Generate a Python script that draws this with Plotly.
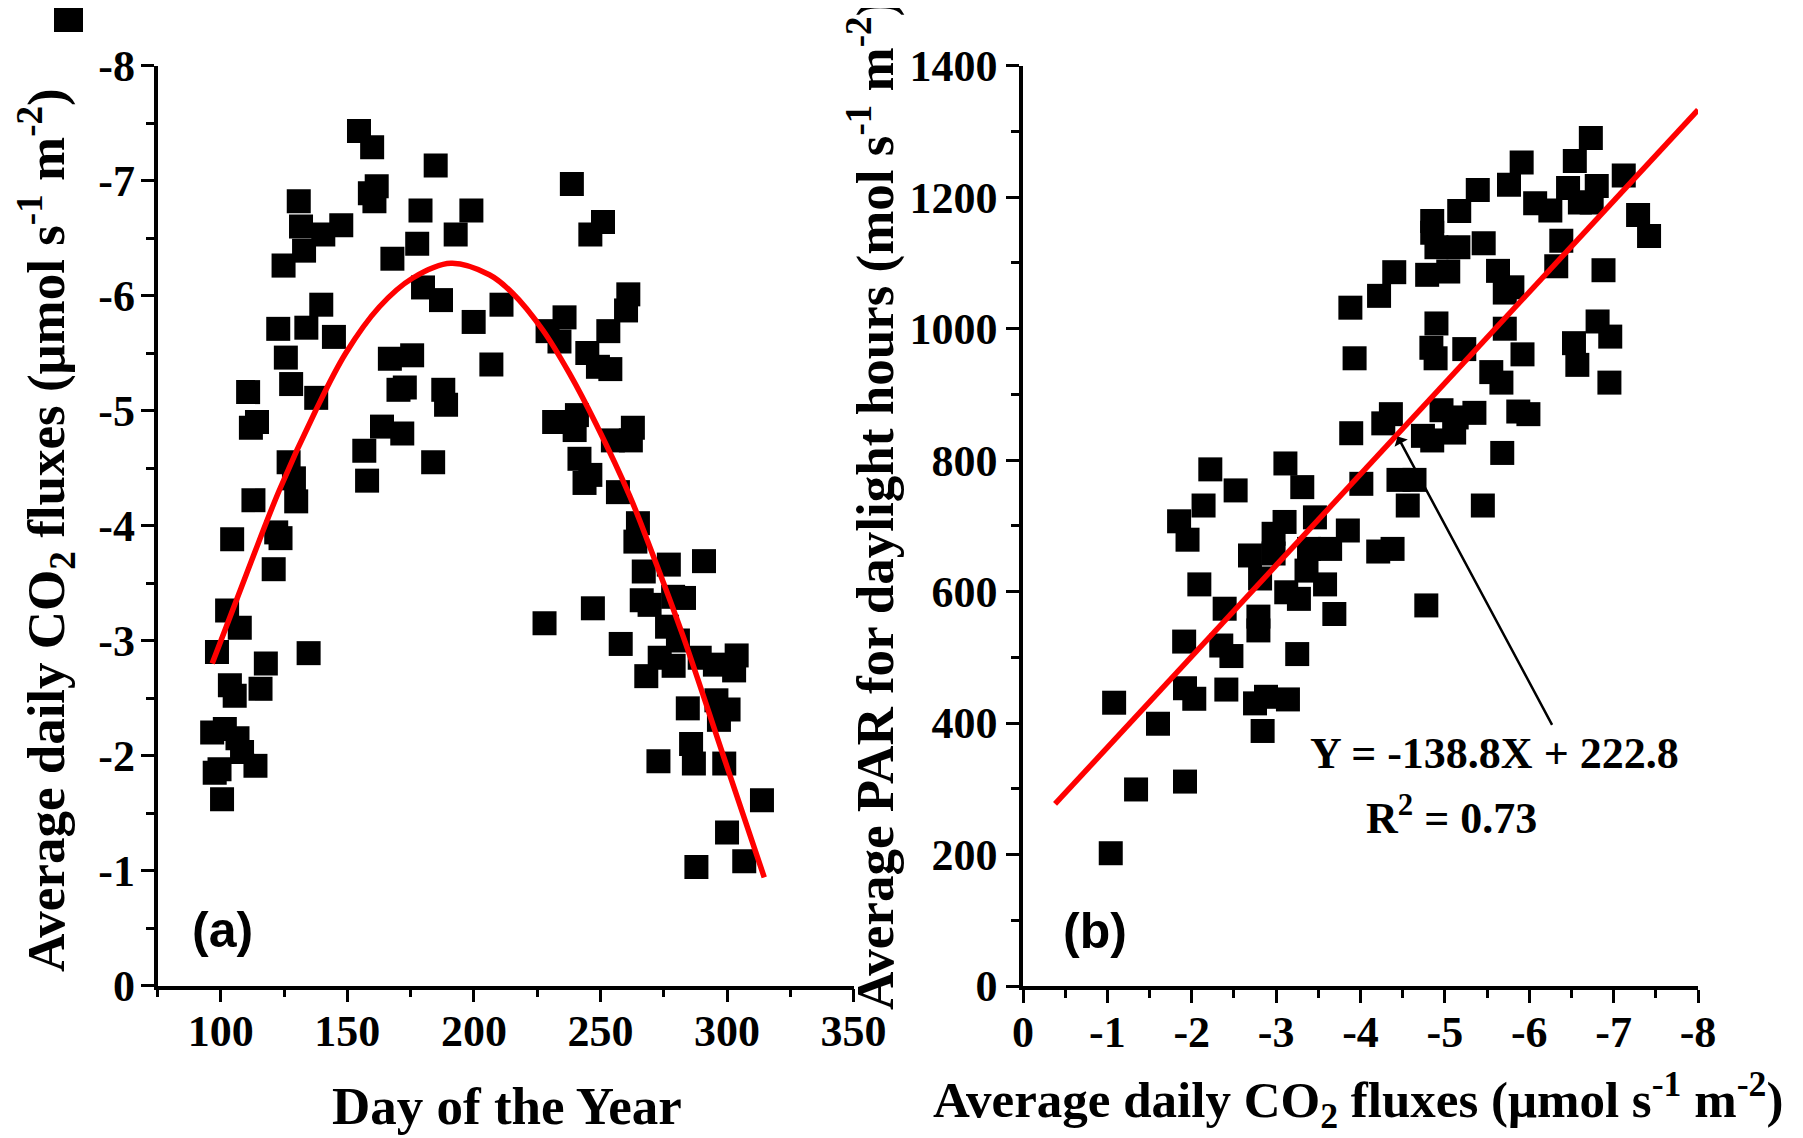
import plotly.graph_objects as go

# Reference screenshot size in px; the page body adds an 8px margin,
# so the figure is drawn 8px smaller and every position is shifted by it.
W, H = 1803, 1138
OFF = 8
FW, FH = W - OFF, H - OFF

# ---- panel (a): day of year vs average daily CO2 flux ----
doy_a = [154.6, 159.8, 184.9, 161.6, 158.9, 160.7, 130.8, 131.7, 140.5, 147.6, 132.9,
         124.8, 178.9, 199.0, 192.8, 177.6, 167.8, 179.9, 187.0, 199.9, 139.7, 122.7,
         133.8, 144.7, 125.7, 166.8, 175.6, 127.8, 137.7, 110.8, 114.3, 111.9, 170.2,
         172.7, 187.9, 189.0, 163.7, 171.7, 156.7, 183.9, 157.8, 126.8, 128.9, 206.9,
         238.7, 251.0, 246.0, 210.9, 261.0, 260.1, 235.8, 229.1, 233.8, 253.1, 244.8,
         249.0, 253.9, 231.7, 240.7, 239.8, 262.8, 254.9, 262.0, 241.7, 246.0, 243.7,
         256.9,
         112.9, 129.8, 104.5, 121.9, 123.6, 120.9, 102.5, 107.5, 98.5, 117.8, 134.7,
         103.6, 105.5, 115.7, 96.6, 101.6, 106.6, 108.4, 113.7, 97.6, 99.5, 100.5,
         264.8, 263.8, 277.0, 290.9, 267.1, 266.3, 269.4, 278.7, 283.0, 247.0, 227.9,
         258.0, 276.3, 280.6, 273.4, 278.9, 268.1, 289.2, 295.2, 303.8, 302.8, 284.5,
         295.8, 300.6, 296.8, 285.8, 286.9, 272.9, 298.9, 313.8, 300.0, 287.9, 306.8]
flux_a = [-7.43, -7.29, -7.13, -6.95, -6.89, -6.82, -6.82, -6.60, -6.53, -6.61, -6.39,
          -6.26, -6.74, -6.74, -6.53, -6.45, -6.32, -6.07, -5.96, -5.77, -5.92, -5.71,
          -5.72, -5.64, -5.46, -5.45, -5.48, -5.23, -5.11, -5.16, -4.90, -4.85, -5.18,
          -5.20, -5.18, -5.05, -4.86, -4.80, -4.65, -4.55, -4.39, -4.55, -4.41, -5.40,
          -6.97, -6.64, -6.53, -5.92, -6.01, -5.87, -5.81, -5.69, -5.60, -5.69, -5.50,
          -5.38, -5.36, -4.90, -4.96, -4.83, -4.85, -4.74, -4.74, -4.58, -4.44, -4.37,
          -4.29,
          -4.22, -4.21, -3.88, -3.94, -3.89, -3.62, -3.26, -3.11, -2.90, -2.80, -2.89,
          -2.61, -2.52, -2.58, -2.20, -2.23, -2.15, -2.03, -1.91, -1.85, -1.88, -1.62,
          -4.02, -3.86, -3.66, -3.69, -3.60, -3.35, -3.31, -3.38, -3.37, -3.28, -3.15,
          -2.97, -3.12, -3.00, -2.85, -2.78, -2.69, -2.85, -2.79, -2.87, -2.74, -2.41,
          -2.48, -2.40, -2.31, -2.10, -1.93, -1.95, -1.93, -1.61, -1.33, -1.03, -1.08]

# red fitted curve
fit_doy_a = [96.6, 110, 123.0, 137.5, 149.4, 162.6, 175.7, 190.9, 206.1, 215.3,
             227.2, 237.8, 248.3, 261.5, 269.4, 282.6, 298.5, 314.7]
fit_flux_a = [-2.80, -3.57, -4.30, -5.00, -5.50, -5.90, -6.15, -6.28, -6.18, -6.02,
              -5.70, -5.32, -4.88, -4.26, -3.82, -3.04, -2.00, -0.94]

# ---- panel (b): CO2 flux vs average PAR ----
flux_b = [-3.88, -3.93, -3.89, -2.22, -2.52, -3.11, -3.31, -4.01,
          -6.73, -5.91, -6.54, -6.80, -6.46, -6.60, -6.74, -7.12, -5.76, -6.07, -6.25,
          -5.39, -5.17, -4.85, -4.85, -7.29, -7.42, -4.90, -5.16, -5.46, -6.38, -4.40,
          -4.22, -4.79, -5.04, -5.63, -5.80, -5.71, -6.32, -6.88, -4.90, -5.71, -6.81,
          -6.96, -4.84, -4.89, -5.23, -5.92, -6.53, -6.57, -6.95, -5.55, -5.67, -4.36,
          -4.27, -4.96, -5.35, -5.14, -4.74, -4.85, -5.11, -5.87, -5.99, -5.68, -4.45,
          -4.64,
          -4.56, -5.45, -4.21, -4.38, -4.78,
          -2.14, -1.85, -1.95, -3.10, -3.46, -3.85, -2.97, -2.69, -2.97, -2.81, -3.39,
          -3.64, -3.36, -3.58, -3.12, -3.27, -2.09, -2.39, -2.79, -2.79, -3.69, -1.91,
          -2.35, -2.47, -3.25, -1.08, -1.92, -2.03, -2.41, -2.75, -2.88, -3.14, -2.84,
          -1.60, -1.34, -1.92, -1.04]
par_b = [1032, 955, 841, 786, 754, 795, 759, 764,
         1290, 1253, 1255, 1217, 1214, 1192, 1192, 1233, 1219, 1191, 1180,
         1211, 1179, 1164, 1146, 1173, 1141, 1124, 1124, 1130, 1134, 1086,
         1050, 1082, 1087, 1088, 1063, 1055, 1095, 1089, 1008, 1000, 1011,
         988, 971, 955, 969, 961, 978, 945, 918, 934, 918, 870,
         856, 876, 872, 865, 837, 830, 842, 874, 870, 811, 770,
         770,
         731, 731, 661, 665, 579,
         731, 707, 679, 706, 713, 693, 688, 655, 658, 620, 665,
         665, 632, 611, 599, 589, 611, 574, 562, 541, 566, 524,
         518, 502, 505, 431, 453, 437, 451, 430, 440, 436, 388,
         399, 299, 311, 202]

# regression line end points (Y = -138.8X + 222.8)
fit_flux_b = [-0.38, -8.0]
fit_par_b = [277, 1333]

# ticks
xa_major = [100, 150, 200, 250, 300, 350]
xa_minor = [75, 125, 175, 225, 275, 325]
ya_major = [0, -1, -2, -3, -4, -5, -6, -7, -8]
ya_minor = [-0.5, -1.5, -2.5, -3.5, -4.5, -5.5, -6.5, -7.5]
xb_major = [0, -1, -2, -3, -4, -5, -6, -7, -8]
xb_minor = [-0.5, -1.5, -2.5, -3.5, -4.5, -5.5, -6.5, -7.5]
yb_major = [0, 200, 400, 600, 800, 1000, 1200, 1400]
yb_minor = [100, 300, 500, 700, 900, 1100, 1300]

SERIF = 'Liberation Serif, Times New Roman, serif'
SANS = 'Liberation Sans, Arial, sans-serif'


# screen pixel -> paper fraction
def px(x):
    return (x - OFF) / FW


def py(y):
    return 1 - (y - OFF) / FH


fig = go.Figure()

fig.add_trace(go.Scatter(x=doy_a, y=flux_a, mode='markers', xaxis='x', yaxis='y',
                         marker=dict(symbol='square', size=24, color='black', line=dict(width=0))))
fig.add_trace(go.Scatter(x=fit_doy_a, y=fit_flux_a, mode='lines', xaxis='x', yaxis='y',
                         line=dict(color='#ff0000', width=5.5, shape='spline', smoothing=1.0)))
fig.add_trace(go.Scatter(x=flux_b, y=par_b, mode='markers', xaxis='x2', yaxis='y2',
                         marker=dict(symbol='square', size=24, color='black', line=dict(width=0))))
fig.add_trace(go.Scatter(x=fit_flux_b, y=fit_par_b, mode='lines', xaxis='x2', yaxis='y2',
                         line=dict(color='#ff0000', width=5.5)))

tickfont = dict(family=SERIF, size=44, color='black', weight='bold')
axis_common = dict(showline=True, linewidth=3.5, linecolor='black', mirror=False,
                   showgrid=False, zeroline=False, ticks='outside', ticklen=13,
                   tickwidth=3, tickcolor='black', tickfont=tickfont, tickmode='array',
                   automargin=False)
minor_common = dict(ticks='outside', ticklen=8, tickwidth=3, tickcolor='black',
                    showgrid=False, tickmode='array')


def labels(vals):
    return [str(v) for v in vals]


fig.update_layout(
    width=FW, height=FH,
    margin=dict(l=0, r=0, t=0, b=0, autoexpand=False),
    paper_bgcolor='white', plot_bgcolor='white',
    showlegend=False,
    xaxis=dict(domain=[px(157.5), px(853.6)], range=[75, 350], anchor='y',
               tickvals=xa_major, ticktext=labels(xa_major), ticklabelstandoff=-9,
               minor=dict(tickvals=xa_minor, **minor_common), **axis_common),
    yaxis=dict(domain=[py(985.5), py(65.5)], range=[0, -8], anchor='x',
               tickvals=ya_major, ticktext=labels(ya_major), ticklabelstandoff=-3,
               minor=dict(tickvals=ya_minor, **minor_common), **axis_common),
    xaxis2=dict(domain=[px(1023), px(1698)], range=[0, -8], anchor='y2',
                tickvals=xb_major, ticktext=labels(xb_major), ticklabelstandoff=-9,
                minor=dict(tickvals=xb_minor, **minor_common), **axis_common),
    yaxis2=dict(domain=[py(986), py(65.8)], range=[0, 1400], anchor='x2',
                tickvals=yb_major, ticktext=labels(yb_major),
                minor=dict(tickvals=yb_minor, **minor_common), **axis_common),
)

title_font = dict(family=SERIF, size=53, color='black', weight='bold')
xtitle_b_font = dict(family=SERIF, size=51, color='black', weight='bold')
co2_title = 'Average daily CO<sub>2</sub> fluxes (\u03bcmol s<sup>-1</sup> m<sup>-2</sup>)'
label_font = dict(family=SANS, size=50, color='black', weight='bold')
eq_font = dict(family=SERIF, size=44, color='black', weight='bold')

annotations = [
    # axis titles
    dict(text=co2_title, textangle=-90, x=px(46), y=py(530), font=title_font),
    dict(text='Day of the Year', x=px(507), y=py(1106), font=title_font),
    dict(text='Average PAR for daylight hours (mol s<sup>-1</sup> m<sup>-2</sup>)', textangle=-90,
         x=px(872), y=py(505), font=title_font),
    dict(text=co2_title, x=px(1358), y=py(1100), font=xtitle_b_font),
    # panel labels
    dict(text='(a)', x=px(222), y=py(930), font=label_font),
    dict(text='(b)', x=px(1095), y=py(931), font=label_font),
    # regression equation
    dict(text='Y = -138.8X + 222.8', x=px(1494), y=py(753), font=eq_font),
    dict(text='R<sup>2</sup> = 0.73', x=px(1451), y=py(815), font=eq_font),
]
for a in annotations:
    a.update(xref='paper', yref='paper', xanchor='center', yanchor='middle', showarrow=False)

# pointer from the equation to the regression line
annotations.append(dict(x=-4.44, y=836, ax=-6.28, ay=395, xref='x2', yref='y2',
                        axref='x2', ayref='y2', text='', showarrow=True,
                        arrowhead=1, arrowsize=1, arrowwidth=2.5, arrowcolor='black'))
fig.update_layout(annotations=annotations)

# black block cropped at the top left corner of the source image
fig.add_shape(type='rect', xref='paper', yref='paper', x0=px(54), x1=px(83), y0=py(32), y1=1,
              fillcolor='black', line=dict(width=0))

fig.write_html("out.html")
